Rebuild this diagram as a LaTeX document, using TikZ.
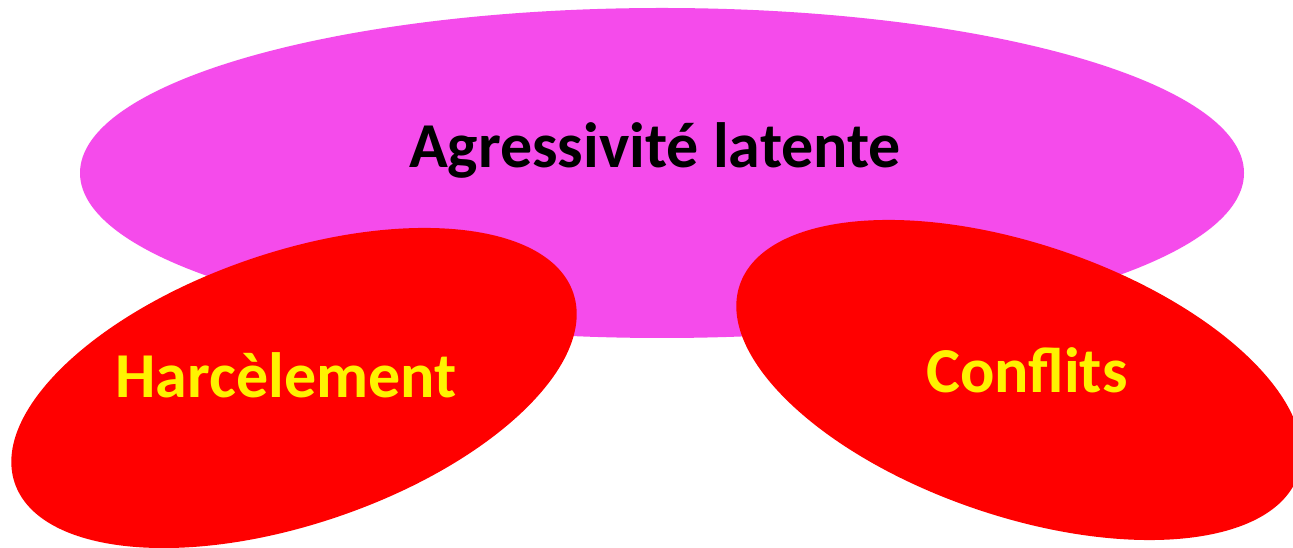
\documentclass[tikz,border=0pt]{standalone}
\usepackage{fontspec}
\setmainfont{Carlito}
\definecolor{magentaF}{RGB}{245,75,235}
\tikzset{lbl/.style={font=\bfseries\fontsize{64}{76}\selectfont, inner sep=0pt}}
\begin{document}
\begin{tikzpicture}[x=1pt,y=1pt]
\useasboundingbox (0,0) rectangle (1293,548);
\fill[white] (0,0) rectangle (1293,548);
\fill[magentaF] (662,375) ellipse [x radius=582pt, y radius=165pt];
\fill[red, rotate around={18.8:(294,160)}] (294,160) ellipse [x radius=295pt, y radius=136pt];
\fill[red, rotate around={-18.8:(1019,168)}] (1019,168) ellipse [x radius=295pt, y radius=136pt];
\node[lbl, text=black] (agr) at (655,398) {Agressivité latente};
\node[lbl, text=yellow] (har) at (286,173) {Harcèlement};
\node[lbl, text=yellow] (con) at (1027,178) {Conflits};
\end{tikzpicture}
\end{document}
